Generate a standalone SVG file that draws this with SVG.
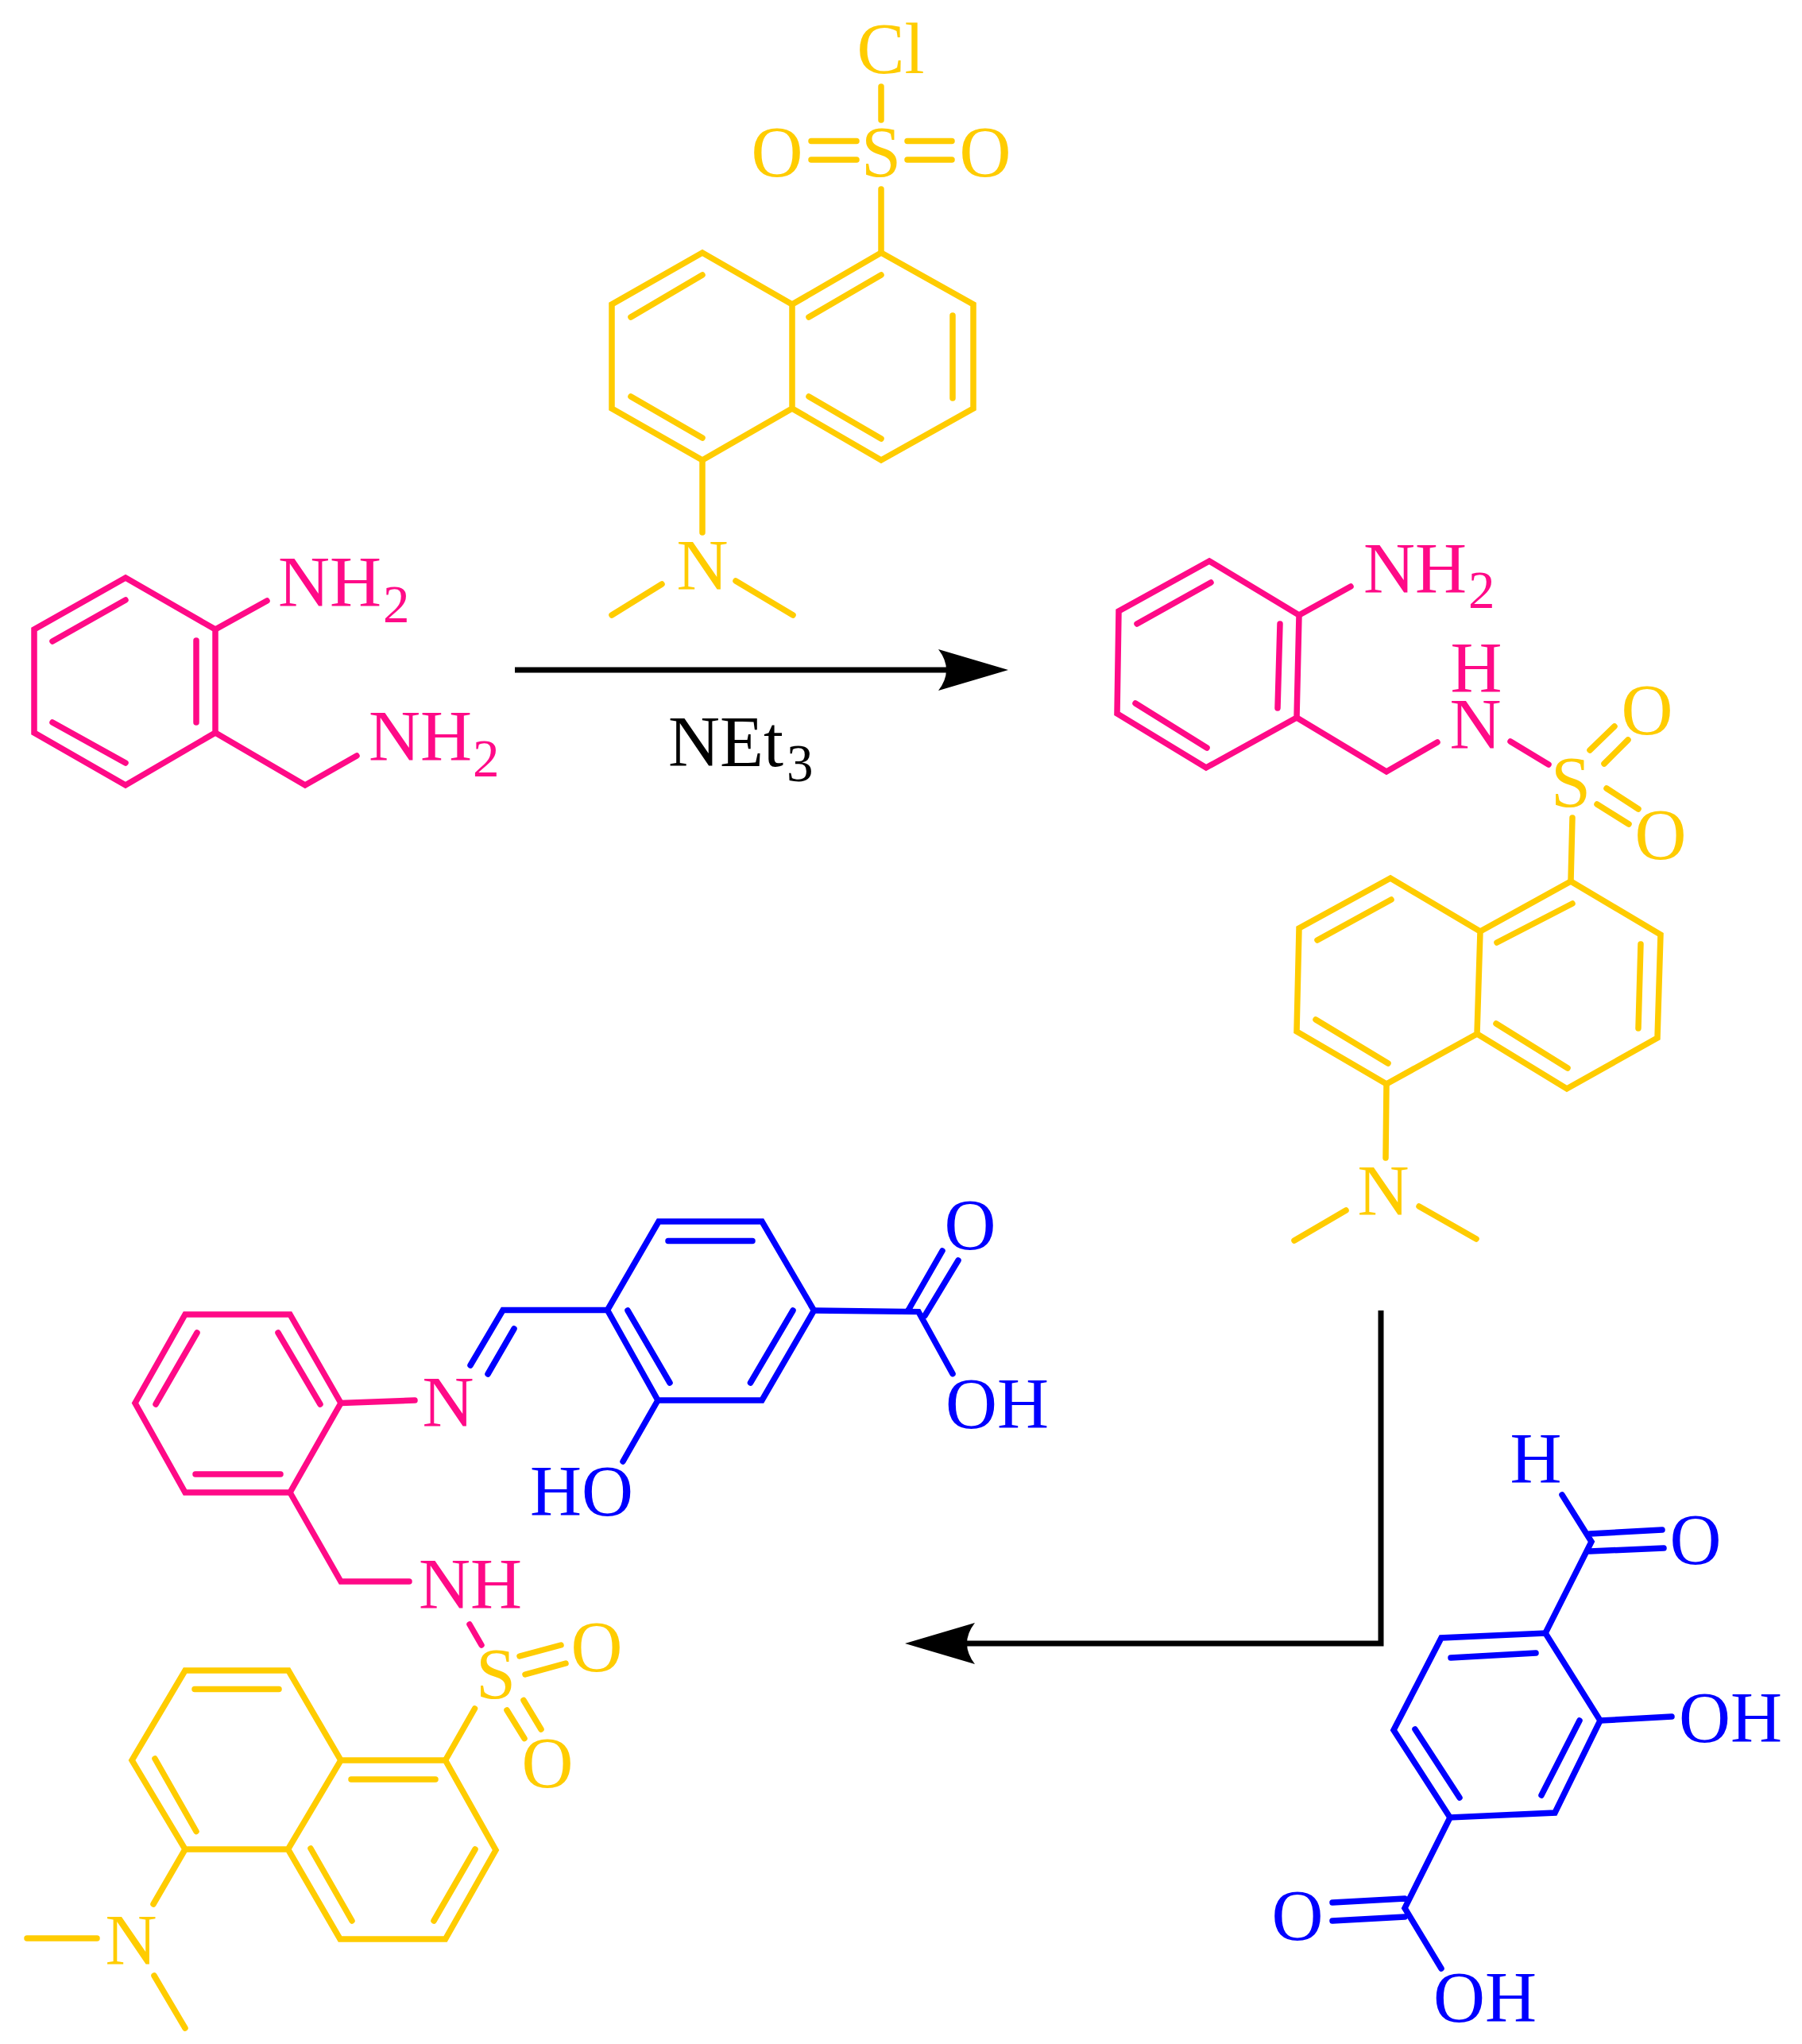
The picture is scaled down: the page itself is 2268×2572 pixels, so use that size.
<svg xmlns="http://www.w3.org/2000/svg" width="2268" height="2572" viewBox="0 0 2268 2572">
<defs>
<style>
path{fill:none;stroke-width:7.500;stroke-linecap:round;stroke-linejoin:miter}
text{font-family:"Liberation Serif","Times New Roman",serif;font-size:90px}
text.s{font-size:67px}
.m{text-anchor:middle}
.pk path{stroke:#FF0A87}.pk text{fill:#FF0A87}
.yl path{stroke:#FFCC00}.yl text{fill:#FFCC00}
.bl path{stroke:#0000FF}.bl text{fill:#0000FF}
#connectors path{stroke:#000;stroke-width:7;stroke-linecap:butt}
#label text{fill:#000}
path.h{fill:#000;stroke:none}
</style>
<marker id="arrow" markerUnits="userSpaceOnUse" markerWidth="90" markerHeight="54" viewBox="0 0 90 54" refX="10" refY="27" orient="auto"><path class="h" d="M0 1L88 27L0 53Q20 27 0 1Z"/></marker>
</defs>
<rect width="2268" height="2572" fill="#fff"/>

<g id="connectors">
<path d="M648 843H1191" marker-end="url(#arrow)"/>
<path d="M1738 1649V2068H1217" marker-end="url(#arrow)"/>
</g>

<g id="label"><text x="841" y="964">NEt</text><text class="s" x="990" y="983">3</text></g>

<g id="diamine" class="pk">
<path d="M158 727L271 792V922L158 988L43 922V792Z"/>
<path d="M247 806V909M66 807L158 755M66 909L158 960M271 792L336 756M271 922L384 988L449 951"/>
<text x="350" y="763">NH</text><text class="s" x="482" y="783">2</text>
<text x="464" y="957">NH</text><text class="s" x="595" y="977">2</text>
</g>

<g id="dansyl-chloride" class="yl">
<path d="M1109 318L1225 383V514L1109 579L997 514V383ZM997 383L884 318L770 383V514L884 579L997 514"/>
<path d="M1018 399L1109 346M1199 397V501M1018 499L1109 552M794 399L884 346M794 499L884 551"/>
<path d="M1109 238V318M1109 151V109M1021 177.500H1078M1021 201H1078M1142 177.500H1198M1142 201H1198"/>
<path d="M884 579V670M833 735L770 774M926 731L998 774"/>
<text class="m" x="1121" y="92">Cl</text>
<text class="m" x="978" y="222">O</text><text class="m" x="1109" y="222">S</text><text class="m" x="1240" y="222">O</text>
<text class="m" x="884" y="742">N</text>
</g>

<g id="sulfonamide">
<g class="pk">
<path d="M1522 706L1635 774L1632 903L1518 966L1406 898L1408 769Z"/>
<path d="M1431 785L1524 733M1611 785L1608 891M1429 885L1519 941M1635 774L1700 738M1632 903L1745 971L1809 934M1901 933L1949 962"/>
<text x="1716" y="746">NH</text><text class="s" x="1848" y="765">2</text>
<text class="m" x="1858" y="871">H</text><text class="m" x="1857" y="942">N</text>
</g>
<g class="yl">
<path d="M1977 1109L2090 1176L2086 1306L1972 1370L1859 1301L1863 1172ZM1863 1172L1750 1105L1635 1168L1632 1298L1745 1364L1859 1301"/>
<path d="M1884 1186L1979 1137M2065 1188L2062 1294M1883 1288L1973 1344M1658 1183L1751 1132M1656 1283L1747 1338"/>
<path d="M1979 1029L1977 1109M2001 944L2032 914M2019 961L2049 931M2022 992L2062 1018M2010 1012L2050 1037"/>
<path d="M1745 1364L1744 1457M1694 1523L1629 1561M1786 1518L1858 1559"/>
<text class="m" x="1977" y="1015">S</text><text class="m" x="2073" y="924">O</text><text class="m" x="2090" y="1081">O</text>
<text class="m" x="1741" y="1529">N</text>
</g>
</g>

<g id="aldehyde" class="bl">
<path d="M1945 2055L2014 2165L1957 2281L1825 2287L1754 2177L1814 2061Z"/>
<path d="M1826 2086L1933 2080M1988 2165L1940 2259M1781 2176L1837 2262"/>
<path d="M1945 2055L2003 1940L1966 1881M2001 1930L2092 1925M2001 1952L2094 1948M2014 2165L2104 2160"/>
<path d="M1825 2287L1768 2401L1814 2477M1768 2389L1677 2394M1768 2412L1677 2417"/>
<text class="m" x="1933" y="1866">H</text><text class="m" x="2134" y="1968">O</text>
<text x="2113" y="2192">OH</text>
<text class="m" x="1633" y="2441">O</text>
<text x="1804" y="2544">OH</text>
</g>

<g id="imine-product">
<g class="pk">
<path d="M233 1654H365L429 1765.500L365 1878H233L170 1765.500Z"/>
<path d="M248 1677L196 1767M350 1677L403 1767M246 1855H353M429 1765.500L522 1762M365 1878L429 1990H515M591 2044L606 2070"/>
<text class="m" x="564" y="1795">N</text>
<text x="527" y="2024">NH</text>
</g>
<g class="yl">
<path d="M233 2102H363L429 2215L362.500 2327H233L166 2215ZM429 2215H560.500L624 2328L560.500 2440H428L362.500 2327"/>
<path d="M245 2125.500H351M442 2239H548M598 2327L546 2417M391 2326L443 2417M195 2213L247 2304.500"/>
<path d="M597.500 2150L560.500 2215M654 2084L706 2070M661 2107L712 2093M638 2152L660 2187.500M659 2139.500L681 2176"/>
<path d="M233 2327L193 2396M122 2439H34M194 2486L233 2552"/>
<text class="m" x="624" y="2137">S</text><text class="m" x="751" y="2103">O</text><text class="m" x="689" y="2249">O</text>
<text class="m" x="165" y="2472">N</text>
</g>
<g class="bl">
<path d="M592 1718L633 1648.500H764.500M614 1729L647 1672"/>
<path d="M764.500 1648.500L829 1537H959L1024.500 1649L959 1762H828Z"/>
<path d="M841 1561.500H947M998 1649L944.500 1740M790 1649L843 1740"/>
<path d="M828 1762L784 1839M1024.500 1649L1156 1650.600L1199 1728.600M1143 1649L1186 1574M1164 1655.500L1206 1586"/>
<text x="667" y="1907">HO</text><text class="m" x="1221" y="1572">O</text><text x="1190" y="1797">OH</text>
</g>
</g>
</svg>
